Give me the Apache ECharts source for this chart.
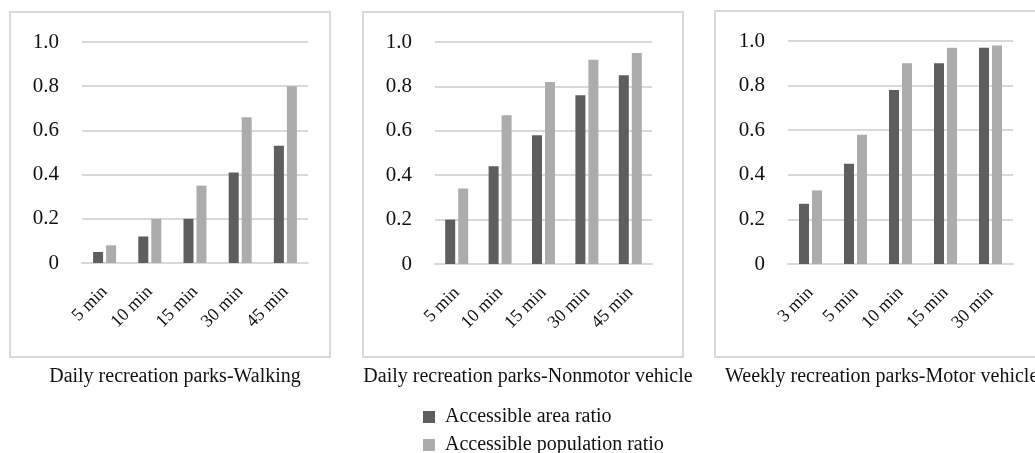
<!DOCTYPE html>
<html>
<head>
<meta charset="utf-8">
<style>
  html, body { margin: 0; padding: 0; background: #fff; }
  #chart { width: 1035px; height: 453px; }
</style>
<script src="https://cdn.jsdelivr.net/npm/echarts@6/dist/echarts.min.js"></script>
</head>
<body>
<div id="chart"></div>
<script>
const seriesNames = ['Accessible area ratio', 'Accessible population ratio'];
const panelTitles = [
  'Daily recreation parks-Walking',
  'Daily recreation parks-Nonmotor vehicle',
  'Weekly recreation parks-Motor vehicle'
];

const walkCategories = ['5 min', '10 min', '15 min', '30 min', '45 min'];
const walkArea = [0.05, 0.12, 0.20, 0.41, 0.53];
const walkPopulation = [0.08, 0.20, 0.35, 0.66, 0.80];

const nonmotorCategories = ['5 min', '10 min', '15 min', '30 min', '45 min'];
const nonmotorArea = [0.20, 0.44, 0.58, 0.76, 0.85];
const nonmotorPopulation = [0.34, 0.67, 0.82, 0.92, 0.95];

const motorCategories = ['3 min', '5 min', '10 min', '15 min', '30 min'];
const motorArea = [0.27, 0.45, 0.78, 0.90, 0.97];
const motorPopulation = [0.33, 0.58, 0.90, 0.97, 0.98];

const panels = [
  { cats: walkCategories, area: walkArea, pop: walkPopulation },
  { cats: nonmotorCategories, area: nonmotorArea, pop: nonmotorPopulation },
  { cats: motorCategories, area: motorArea, pop: motorPopulation }
];

const darkColor = '#5e5e5e';
const lightColor = '#acacac';
const lineColor = '#d9d9d9';
const textColor = '#111';
const serif = '"Liberation Serif", "DejaVu Serif", serif';

// plot areas and the light frames round each panel
const grids = [
  { left: 82, top: 42, width: 226, height: 221 },
  { left: 435, top: 42, width: 217, height: 222 },
  { left: 788, top: 41, width: 225, height: 223 }
];
const frames = [
  { x: 10, y: 12, w: 320, h: 345 },
  { x: 363, y: 12, w: 320, h: 345 },
  { x: 715, y: 11, w: 330, h: 346 }
];

const chart = echarts.init(document.getElementById('chart'));

const option = {
  animation: false,
  textStyle: { fontFamily: serif },
  grid: grids.map(g => Object.assign({ containLabel: false }, g)),
  xAxis: panels.map((p, i) => ({
    type: 'category',
    gridIndex: i,
    data: p.cats,
    axisLine: { show: true, lineStyle: { color: lineColor, width: 2 } },
    axisTick: { show: false },
    axisLabel: {
      rotate: 45,
      margin: 26,
      interval: 0,
      fontSize: 18,
      color: textColor,
      fontFamily: serif
    }
  })),
  yAxis: panels.map((p, i) => ({
    type: 'value',
    gridIndex: i,
    min: 0,
    max: 1,
    interval: 0.2,
    axisLine: { show: false },
    axisTick: { show: false },
    splitLine: { lineStyle: { color: lineColor, width: 2 } },
    axisLabel: {
      margin: 23,
      fontSize: 21,
      color: textColor,
      fontFamily: serif,
      formatter: v => (v === 0 ? '0' : v.toFixed(1))
    }
  })),
  legend: seriesNames.map((name, i) => ({
    left: 418,
    top: 402 + i * 28,
    itemWidth: 12,
    itemHeight: 12,
    itemGap: 10,
    icon: 'rect',
    data: [name],
    textStyle: { fontSize: 20, color: textColor, fontFamily: serif, padding: [0, 0, 0, 5] }
  })),
  title: panelTitles.map((t, i) => ({
    text: t,
    left: i === 2 ? 720 : frames[i].x + frames[i].w / 2,
    textAlign: i === 2 ? 'left' : 'center',
    top: 362,
    textStyle: { fontSize: 20, fontWeight: 'normal', color: textColor, fontFamily: serif }
  })),
  graphic: frames.map(f => ({
    type: 'rect',
    shape: { x: f.x, y: f.y, width: f.w, height: f.h },
    style: { fill: 'none', stroke: lineColor, lineWidth: 2 },
    silent: true
  })),
  series: []
};

panels.forEach((p, i) => {
  option.series.push({
    name: seriesNames[0],
    type: 'bar',
    xAxisIndex: i,
    yAxisIndex: i,
    barWidth: 10,
    barGap: '30%',
    itemStyle: { color: darkColor },
    data: p.area
  });
  option.series.push({
    name: seriesNames[1],
    type: 'bar',
    xAxisIndex: i,
    yAxisIndex: i,
    barWidth: 10,
    barGap: '30%',
    itemStyle: { color: lightColor },
    data: p.pop
  });
});

chart.setOption(option);
</script>
</body>
</html>
